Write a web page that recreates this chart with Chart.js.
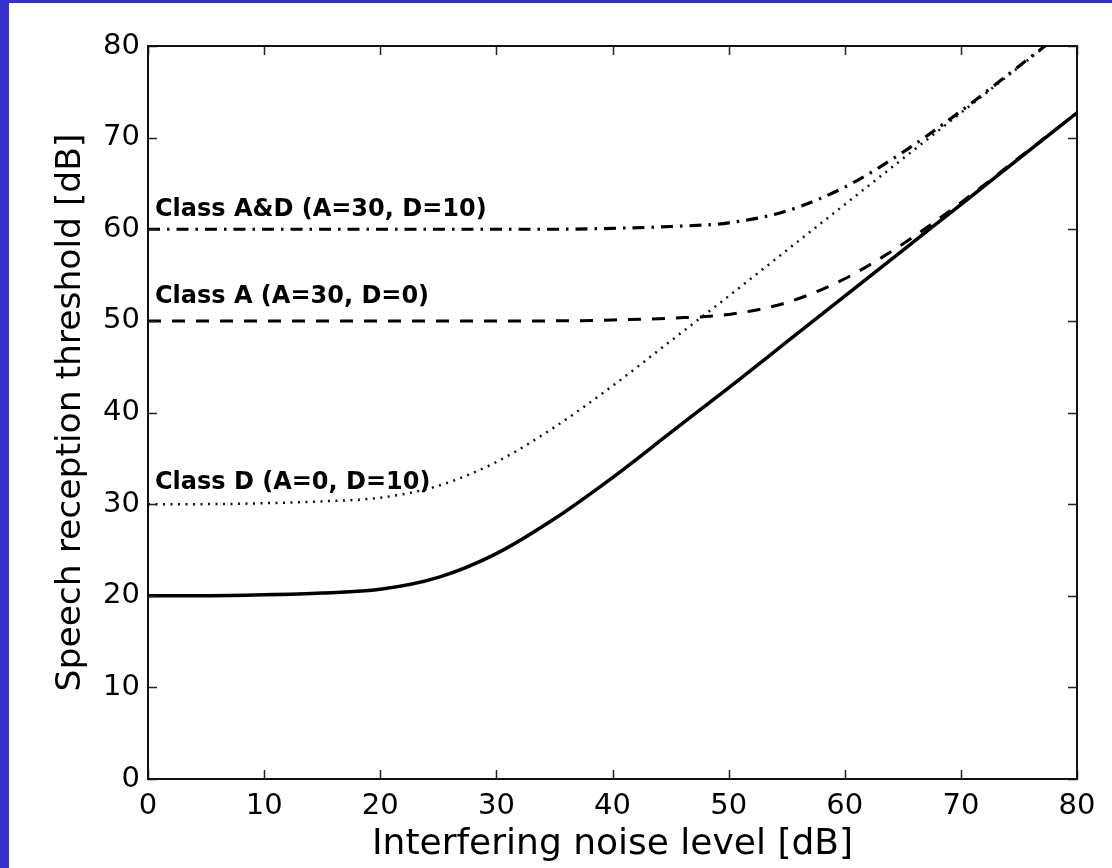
<!DOCTYPE html>
<html>
<head>
<meta charset="utf-8">
<script src="https://cdn.jsdelivr.net/npm/chart.js@4/dist/chart.umd.min.js"></script>
<style>
  html, body { margin: 0; padding: 0; background: #3333cc; width: 1112px; height: 868px; overflow: hidden; }
  #wrap { position: absolute; left: 9px; top: 3px; width: 1103px; height: 865px; background: #ffffff; }
</style>
</head>
<body>
<div id="wrap"><canvas id="srtChart" width="1103" height="865"></canvas></div>
<script>
// noise level [dB]
const noiseLevels = [0, 5, 10, 15, 20, 25, 30, 35, 40, 45, 50, 55, 60, 65, 70, 75, 80];
// speech reception threshold [dB]
const normalSrt = [20.0, 20.0, 20.1, 20.3, 20.7, 22.0, 24.6, 28.4, 32.9, 37.8, 42.7, 47.7, 52.7, 57.7, 62.7, 67.7, 72.7];
const classASrt = [50.0, 50.0, 50.0, 50.0, 50.0, 50.0, 50.0, 50.0, 50.1, 50.3, 50.7, 52.0, 54.6, 58.4, 62.9, 67.8, 72.7];
const classDSrt = [30.0, 30.0, 30.1, 30.3, 30.7, 32.0, 34.6, 38.4, 42.9, 47.8, 52.7, 57.7, 62.7, 67.7, 72.7, 77.7, 82.7];
const classADSrt = [60.0, 60.0, 60.0, 60.0, 60.0, 60.0, 60.0, 60.0, 60.1, 60.3, 60.7, 62.0, 64.6, 68.4, 72.9, 77.8, 82.7];
const tickValues = [0, 10, 20, 30, 40, 50, 60, 70, 80];

const curveLabels = [
  { text: "Class A&D (A=30, D=10)", x: 0.6, y: 61.5 },
  { text: "Class A (A=30, D=0)", x: 0.6, y: 52.0 },
  { text: "Class D (A=0, D=10)", x: 0.6, y: 31.7 },
];

function toPoints(ys) {
  return noiseLevels.map((x, i) => ({ x: x, y: ys[i] }));
}

// box, inward ticks on all four sides and the class labels
const matlabAxes = {
  id: "matlabAxes",
  afterDatasetsDraw(chart) {
    const ctx = chart.ctx;
    const a = chart.chartArea;
    const xs = chart.scales.x;
    const ys = chart.scales.y;
    const tl = 9;
    ctx.save();
    ctx.strokeStyle = "#222";
    ctx.lineWidth = 1.5;
    ctx.beginPath();
    tickValues.forEach((v) => {
      const px = Math.round(xs.getPixelForValue(v)) + 0.5;
      ctx.moveTo(px, a.bottom); ctx.lineTo(px, a.bottom - tl);
      ctx.moveTo(px, a.top); ctx.lineTo(px, a.top + tl);
      const py = Math.round(ys.getPixelForValue(v)) + 0.5;
      ctx.moveTo(a.left, py); ctx.lineTo(a.left + tl, py);
      ctx.moveTo(a.right, py); ctx.lineTo(a.right - tl, py);
    });
    ctx.stroke();
    ctx.lineWidth = 2;
    ctx.strokeStyle = "#111";
    ctx.strokeRect(a.left, a.top, a.right - a.left, a.bottom - a.top);

    ctx.fillStyle = "#000";
    ctx.font = "bold 24px 'DejaVu Sans', sans-serif";
    ctx.textBaseline = "alphabetic";
    ctx.textAlign = "left";
    curveLabels.forEach((l) => {
      ctx.fillText(l.text, xs.getPixelForValue(l.x), ys.getPixelForValue(l.y));
    });
    ctx.restore();
  },
};

const tickFont = { family: "'DejaVu Sans', sans-serif", size: 29 };
const xTitleFont = { family: "'DejaVu Sans', sans-serif", size: 36 };
const yTitleFont = { family: "'DejaVu Sans', sans-serif", size: 34.5 };

new Chart(document.getElementById("srtChart").getContext("2d"), {
  type: "line",
  data: {
    datasets: [
      {
        label: "Normal",
        data: toPoints(normalSrt),
        borderColor: "#000",
        borderWidth: 3.5,
      },
      {
        label: "Class A",
        data: toPoints(classASrt),
        borderColor: "#000",
        borderWidth: 3,
        borderDash: [13, 11],
      },
      {
        label: "Class D",
        data: toPoints(classDSrt),
        borderColor: "#111",
        borderWidth: 2.5,
        borderDash: [2, 5.5],
      },
      {
        label: "Class A&D",
        data: toPoints(classADSrt),
        borderColor: "#000",
        borderWidth: 3.2,
        borderDash: [12, 7, 2.5, 7],
      },
    ],
  },
  options: {
    responsive: false,
    animation: false,
    cubicInterpolationMode: "monotone",
    elements: { point: { radius: 0 }, line: { tension: 0.4 } },
    layout: { padding: { top: 43, right: 35, left: 0, bottom: 0 } },
    plugins: { legend: { display: false }, tooltip: { enabled: false } },
    scales: {
      x: {
        type: "linear",
        min: 0,
        max: 80,
        afterFit: (scale) => { scale.height = 89; },
        afterBuildTicks: (scale) => { scale.ticks = tickValues.map((v) => ({ value: v })); },
        grid: { display: true, drawOnChartArea: false, drawTicks: false },
        border: { display: false },
        ticks: { color: "#000", font: tickFont, padding: 10, maxRotation: 0 },
        title: {
          display: true,
          text: "Interfering noise level [dB]",
          color: "#000",
          font: xTitleFont,
          padding: { top: 0, bottom: 2 },
        },
      },
      y: {
        type: "linear",
        min: 0,
        max: 80,
        afterFit: (scale) => { scale.width = 139; },
        afterBuildTicks: (scale) => { scale.ticks = tickValues.map((v) => ({ value: v })); },
        grid: { display: true, drawOnChartArea: false, drawTicks: false },
        border: { display: false },
        ticks: { color: "#000", font: tickFont, padding: 8 },
        title: {
          display: true,
          text: "Speech reception threshold [dB]",
          color: "#000",
          font: yTitleFont,
          padding: { top: 41, bottom: 0 },
        },
      },
    },
  },
  plugins: [matlabAxes],
});
</script>
</body>
</html>
